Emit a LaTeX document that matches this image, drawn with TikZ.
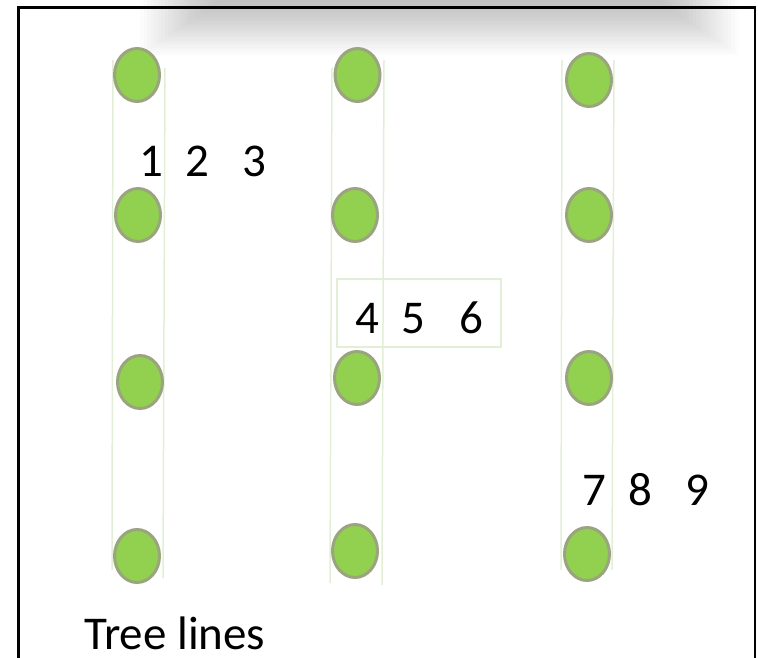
\documentclass[tikz,border=0pt]{standalone}
\usepackage{fontspec}
\setmainfont{Carlito}
\usetikzlibrary{shapes.geometric}
\definecolor{treefill}{HTML}{92D050}
\definecolor{treeedge}{HTML}{9AA47E}
\definecolor{rowline}{HTML}{E2EED6}
\tikzset{
  tree/.style={ellipse, draw=treeedge, fill=treefill, line width=3pt,
    minimum width=45pt, minimum height=53pt, inner sep=0pt},
  rowedge/.style={draw=rowline, line width=1.5pt},
  lbl/.style={inner sep=0pt, anchor=base west, font=\fontsize{47}{50}\selectfont},
}
\begin{document}
\begin{tikzpicture}[x=1pt,y=-1pt]
\useasboundingbox (0,0) rectangle (758,658);
% shadow at the top
\begin{scope}
\clip (0,0) rectangle (758,70);
\foreach \i in {0,...,24}{
  \fill[black, opacity=0.011] (140+\i*3.5,-10) rectangle (738-\i*3.5,55-\i*2.4);
}
\end{scope}
% frame
\draw[line width=2.5pt] (18.5,670) -- (18.5,7.5) -- (755,7.5) -- (755,670);
% row lines
\coordinate (a1) at (113,60);  \coordinate (a2) at (112,570);
\coordinate (b1) at (165,68);  \coordinate (b2) at (163,578);
\coordinate (c1) at (332,68);  \coordinate (c2) at (330,583);
\coordinate (d1) at (384,60);  \coordinate (d2) at (382,585);
\coordinate (e1) at (562,60);  \coordinate (e2) at (561,570);
\coordinate (f1) at (614,60);  \coordinate (f2) at (612,570);
\draw[rowedge] (a1) -- (a2);
\draw[rowedge] (b1) -- (b2);
\draw[rowedge] (c1) -- (c2);
\draw[rowedge] (d1) -- (d2);
\draw[rowedge] (e1) -- (e2);
\draw[rowedge] (f1) -- (f2);
% box round 4 5 6
\coordinate (box1) at (337,279);
\coordinate (box2) at (501,347);
\draw[rowedge] (box1) rectangle (box2);
% trees
\node[tree] (t11) at (137,75) {};
\node[tree] (t12) at (138,215) {};
\node[tree] (t13) at (140,382) {};
\node[tree] (t14) at (137,556) {};
\node[tree] (t21) at (357.5,75) {};
\node[tree] (t22) at (355,215) {};
\node[tree] (t23) at (357,378) {};
\node[tree] (t24) at (355,551) {};
\node[tree] (t31) at (589,80) {};
\node[tree] (t32) at (589,215) {};
\node[tree] (t33) at (589,378) {};
\node[tree] (t34) at (587,554) {};
% labels
\node[lbl] (n123) at (139.6,176) {1\hspace{21.7pt}2\hspace{33.7pt}3};
\node[lbl] (n456) at (355.1,333) {4\hspace{22.2pt}5\hspace{34.2pt}6};
\node[lbl] (n789) at (582.6,505) {7\hspace{21.7pt}8\hspace{33.7pt}9};
\node[lbl, text depth=0pt] (title) at (84,649) {Tree lines};
\end{tikzpicture}
\end{document}
